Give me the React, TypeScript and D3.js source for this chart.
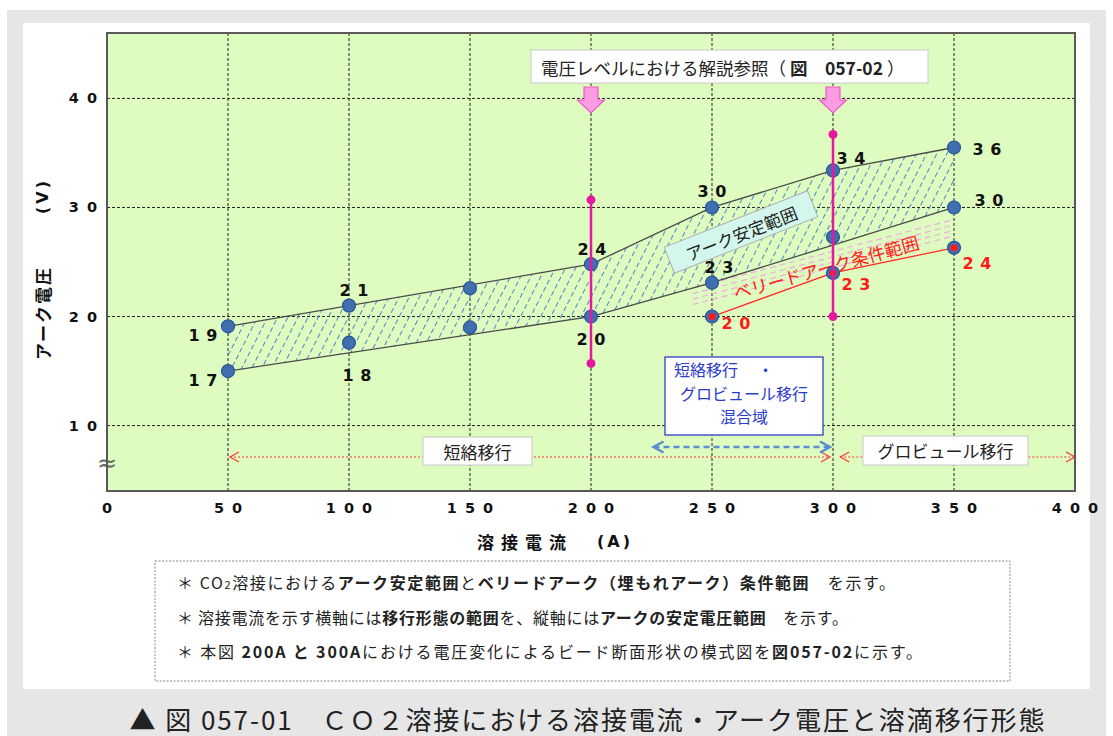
import React from 'react';
import * as d3 from 'd3';

// ---- data ----
const currentTicks = [0, 50, 100, 150, 200, 250, 300, 350, 400];
const voltageTicks = [10, 20, 30, 40];
const currents = [50, 100, 150, 200, 250, 300, 350];
const stableUpperV = [19.1, 21.0, 22.6, 24.8, 30.0, 33.4, 35.5];
const stableLowerV = [15.0, 17.6, 19.0, 20.0, 23.1, 27.3, 30.0];
const upperLabels = ['19', '21', '', '24', '30', '34', '36'];
const lowerLabels = ['17', '18', '', '20', '23', '', '30'];
const upperEdgeA = [50, 200, 250, 300, 350];
const upperEdgeV = [19.1, 24.8, 30.0, 33.4, 35.5];
const lowerEdgeA = [50, 200, 250, 350];
const lowerEdgeV = [15.0, 20.0, 23.1, 30.0];
const buriedA = [250, 300, 350];
const buriedV = [20.0, 24.0, 26.3];
const buriedLabels = ['20', '23', '24'];
const buriedHatchA = [242, 350];
const buriedHatchStartV = [21.1, 21.6, 22.1, 22.6];
const buriedHatchEndV = [27.4, 27.9, 28.4, 28.9];
const refA = [200, 300];
const refLowV = [15.7, 20.0];
const refHighV = [30.7, 36.7];
const shortRange = [50, 300];
const globularRange = [303, 400];
const mixedRange = [225, 300];
const noteLines = [
  [['＊ CO', false], ['2', false, 'sub'], ['溶接における', false], ['アーク安定範囲', true], ['と', false], ['ベリードアーク（埋もれアーク）条件範囲', true], ['　を示す。', false]],
  [['＊ 溶接電流を示す横軸には', false], ['移行形態の範囲', true], ['を、縦軸には', false], ['アークの安定電圧範囲', true], ['　を示す。', false]],
  [['＊ 本図 ', false], ['200A と 300A', true], ['における電圧変化によるビード断面形状の模式図を', false], ['図057-02', true], ['に示す。', false]],
];
const noteWidths = [718, 671, 745];
const caption = '▲ 図 057-01　ＣＯ２溶接における溶接電流・アーク電圧と溶滴移行形態';

// ---- layout ----
const W = 1113, H = 736;
const PL = 107, PR = 1075, PT = 33, PB = 491;
const upperOff = [[-25, 9], [5, -15], [0, 0], [1, -15], [0, -16], [18, -12], [33, 2]];
const lowerOff = [[-25, 9], [8, 33], [0, 0], [0, 23], [7, -15], [0, 0], [35, -7]];
const buriedOff = [[24, 7], [23, 12], [23, 16]];

const JP = '"Noto Sans CJK JP", "Noto Sans", sans-serif';
const NUM = '"DejaVu Sans", Verdana, sans-serif';

function NumLabel({ x, y, t, fill = '#111', size = 16, ls = 6.5 }: any) {
  return (
    <text x={x + ls / 2} y={y} textAnchor="middle" dominantBaseline="central"
      fontFamily={NUM} fontWeight="bold" fontSize={size} letterSpacing={ls} fill={fill}>{t}</text>
  );
}

export default function App() {
  const x = d3.scaleLinear().domain([0, 400]).range([PL, PR]);
  const y = d3.scaleLinear().domain([4, 46]).range([PB, PT]);
  const line = d3.line<[number, number]>().x(d => x(d[0])).y(d => y(d[1]));

  const upperEdge = upperEdgeA.map((a, i) => [a, upperEdgeV[i]] as [number, number]);
  const lowerEdge = lowerEdgeA.map((a, i) => [a, lowerEdgeV[i]] as [number, number]);
  const band = [...upperEdge, ...lowerEdge.slice().reverse()];
  const buried = buriedA.map((a, i) => [a, buriedV[i]] as [number, number]);

  const chevron = (px: number, py: number, dir: number, s: number) =>
    `M${px - dir * s},${py - s * 0.55} L${px},${py} L${px - dir * s},${py + s * 0.55}`;

  const circles: [number, number][] = [
    ...currents.map((a, i) => [a, stableUpperV[i]] as [number, number]),
    ...currents.map((a, i) => [a, stableLowerV[i]] as [number, number]),
    ...buried,
  ];

  const arrowY1 = 447, arrowY2 = 457;

  return (
    <svg width={W} height={H} style={{ position: 'absolute', left: 0, top: 0 }}
      xmlns="http://www.w3.org/2000/svg">
      <defs>
        <pattern id="hatch" width="9" height="8" patternUnits="userSpaceOnUse" patternTransform="rotate(27)">
          <line x1="4.5" y1="0" x2="4.5" y2="8" stroke="#4f82c8" strokeWidth="1" strokeDasharray="5,3" />
        </pattern>
      </defs>
      <rect x={0} y={0} width={W} height={H} fill="#fff" />
      <rect x={7} y={10} width={1099} height={726} fill="#e6e6e6" />
      <rect x={23} y={23} width={1067} height={666} fill="#fff" />

      {/* plot background */}
      <rect x={PL} y={PT} width={PR - PL} height={PB - PT} fill="#defcbf" />

      {/* grid */}
      {currentTicks.filter(t => t > 0 && t < 400).map(t => (
        <line key={'gx' + t} x1={x(t)} x2={x(t)} y1={PT} y2={PB} stroke="#222" strokeWidth={1} strokeDasharray="3,2" />
      ))}
      {voltageTicks.map(t => (
        <line key={'gy' + t} x1={PL} x2={PR} y1={y(t)} y2={y(t)} stroke="#222" strokeWidth={1} strokeDasharray="3,2" />
      ))}

      {/* stable band hatch */}
      <path d={line(band as any) + 'Z'} fill="url(#hatch)" stroke="none" />

      {/* buried arc hatch */}
      {buriedHatchStartV.map((v, i) => (
        <line key={'bh' + i} x1={x(buriedHatchA[0])} y1={y(v)} x2={x(buriedHatchA[1])} y2={y(buriedHatchEndV[i])}
          stroke="#f3a6e6" strokeWidth={1.2} strokeDasharray="6,4" />
      ))}

      {/* band edges */}
      <path d={line(upperEdge) || ''} fill="none" stroke="#4a4a4a" strokeWidth={1.3} />
      <path d={line(lowerEdge) || ''} fill="none" stroke="#4a4a4a" strokeWidth={1.3} />
      <path d={line(buried) || ''} fill="none" stroke="#ff2a2a" strokeWidth={1.3} />

      {/* labels on bands */}
      <g transform={`translate(741,232) rotate(-21.5)`}>
        <rect x={-77} y={-14} width={154} height={28} fill="#d3f7ec" stroke="#b0b0b0" strokeWidth={1} />
        <text x={0} y={1} textAnchor="middle" dominantBaseline="central" fontFamily={JP} fontSize={17} fill="#222">アーク安定範囲</text>
      </g>
      <g transform={`translate(826,267) rotate(-15.5)`}>
        <text x={0} y={0} textAnchor="middle" dominantBaseline="central" fontFamily={JP} fontSize={17.5} fill="#ff2020">ベリードアーク条件範囲</text>
      </g>

      {/* circles */}
      {circles.map((p, i) => (
        <circle key={'c' + i} cx={x(p[0])} cy={y(p[1])} r={6.5} fill="#3f6fb1" stroke="#2b5592" strokeWidth={1.2} />
      ))}
      {buried.map((p, i) => (
        <circle key={'rd' + i} cx={x(p[0])} cy={y(p[1])} r={3.5} fill="#ff1a1a" />
      ))}

      {/* voltage reference lines */}
      {refA.map((a, i) => (
        <g key={'ref' + i}>
          <line x1={x(a)} x2={x(a)} y1={y(refLowV[i])} y2={y(refHighV[i])} stroke="#e8179f" strokeWidth={2.5} />
          <circle cx={x(a)} cy={y(refLowV[i])} r={4.5} fill="#e8179f" />
          <circle cx={x(a)} cy={y(refHighV[i])} r={4.5} fill="#e8179f" />
          <path d={`M${x(a) - 7},87 h14 v13 h6.5 L${x(a)},113 L${x(a) - 13.5},100 h6.5 Z`}
            fill="#ff9be3" stroke="#e85cc4" strokeWidth={1.2} />
        </g>
      ))}

      {/* value labels */}
      {currents.map((a, i) => upperLabels[i] ? (
        <NumLabel key={'ul' + i} x={x(a) + upperOff[i][0]} y={y(stableUpperV[i]) + upperOff[i][1]} t={upperLabels[i]} />
      ) : null)}
      {currents.map((a, i) => lowerLabels[i] ? (
        <NumLabel key={'ll' + i} x={x(a) + lowerOff[i][0]} y={y(stableLowerV[i]) + lowerOff[i][1]} t={lowerLabels[i]} />
      ) : null)}
      {buriedA.map((a, i) => (
        <NumLabel key={'bl' + i} x={x(a) + buriedOff[i][0]} y={y(buriedV[i]) + buriedOff[i][1]} t={buriedLabels[i]} fill="#ff1a1a" />
      ))}

      {/* reference box */}
      <rect x={531} y={50} width={397} height={33} fill="#fff" stroke="#c8c8c8" strokeWidth={1} />
      <text x={541} y={67} dominantBaseline="central" fontFamily={JP} fontSize={17.5} fill="#222">
        電圧レベルにおける解説参照（ <tspan fontWeight="bold">図　057-02</tspan> ）
      </text>

      {/* transfer mode arrows */}
      <line x1={x(shortRange[0]) + 2} x2={x(shortRange[1]) - 3} y1={arrowY2} y2={arrowY2} stroke="#ff3535" strokeWidth={1.2} strokeDasharray="2,2" />
      <path d={chevron(x(shortRange[0]) + 2, arrowY2, -1, 9)} fill="none" stroke="#ff3535" strokeWidth={1.2} />
      <path d={chevron(x(shortRange[1]) - 3, arrowY2, 1, 9)} fill="none" stroke="#ff3535" strokeWidth={1.2} />
      <line x1={x(globularRange[0])} x2={x(globularRange[1])} y1={arrowY2} y2={arrowY2} stroke="#ff3535" strokeWidth={1.2} strokeDasharray="2,2" />
      <path d={chevron(x(globularRange[0]), arrowY2, -1, 9)} fill="none" stroke="#ff3535" strokeWidth={1.2} />
      <path d={chevron(x(globularRange[1]), arrowY2, 1, 9)} fill="none" stroke="#ff3535" strokeWidth={1.2} />

      <line x1={x(mixedRange[0]) + 2} x2={x(mixedRange[1]) - 3} y1={arrowY1} y2={arrowY1} stroke="#5a8ed0" strokeWidth={2.5} strokeDasharray="6,4" />
      <path d={chevron(x(mixedRange[0]) + 2, arrowY1, -1, 10)} fill="none" stroke="#5a8ed0" strokeWidth={2.5} />
      <path d={chevron(x(mixedRange[1]) - 3, arrowY1, 1, 10)} fill="none" stroke="#5a8ed0" strokeWidth={2.5} />

      <rect x={423} y={437} width={109} height={28} fill="#fff" stroke="#c8c8c8" />
      <text x={477.5} y={451} textAnchor="middle" dominantBaseline="central" fontFamily={JP} fontSize={17} fill="#222">短絡移行</text>
      <rect x={863} y={436} width={165} height={29} fill="#fff" stroke="#c8c8c8" />
      <text x={945.5} y={450.5} textAnchor="middle" dominantBaseline="central" fontFamily={JP} fontSize={17} fill="#222">グロビュール移行</text>

      <rect x={665} y={357} width={158} height={78} fill="#fff" stroke="#3040c8" strokeWidth={1.3} />
      <text x={674} y={369} dominantBaseline="central" fontFamily={JP} fontSize={16} fill="#2a3ccc">短絡移行　 ・</text>
      <text x={744} y={392.5} textAnchor="middle" dominantBaseline="central" fontFamily={JP} fontSize={16} fill="#2a3ccc">グロビュール移行</text>
      <text x={744} y={416} textAnchor="middle" dominantBaseline="central" fontFamily={JP} fontSize={16} fill="#2a3ccc">混合域</text>

      {/* break mark */}
      <text x={107} y={463} textAnchor="middle" dominantBaseline="central" fontFamily={NUM} fontSize={24} fill="#666">≈</text>

      {/* plot border */}
      <rect x={PL} y={PT} width={PR - PL} height={PB - PT} fill="none" stroke="#595959" strokeWidth={2} />

      {/* axes ticks */}
      {voltageTicks.map(t => (
        <text key={'yt' + t} x={97 + 8} y={y(t)} textAnchor="end" dominantBaseline="central"
          fontFamily={NUM} fontWeight="bold" fontSize={14.5} letterSpacing={8} fill="#111">{t}</text>
      ))}
      {currentTicks.map(t => (
        <text key={'xt' + t} x={x(t) + 4} y={508} textAnchor="middle" dominantBaseline="central"
          fontFamily={NUM} fontWeight="bold" fontSize={14.5} letterSpacing={8} fill="#111">{t}</text>
      ))}

      {/* axis titles */}
      <text x={477} y={541} dominantBaseline="central" fontFamily={JP} fontWeight="bold" fontSize={17} letterSpacing={7} fill="#111">溶接電流</text>
      <text x={597} y={541} dominantBaseline="central" fontFamily={NUM} fontWeight="bold" fontSize={16} letterSpacing={3} fill="#111">(A)</text>
      <g transform="translate(42,313) rotate(-90)">
        <text x={0} y={0} textAnchor="middle" dominantBaseline="central" fontFamily={JP} fontWeight="bold" fontSize={17} letterSpacing={2} fill="#111">アーク電圧</text>
      </g>
      <g transform="translate(42,196) rotate(-90)">
        <text x={0} y={0} textAnchor="middle" dominantBaseline="central" fontFamily={NUM} fontWeight="bold" fontSize={16} letterSpacing={3} fill="#111">(V)</text>
      </g>

      {/* notes */}
      <rect x={155} y={561} width={855} height={120} fill="#fff" stroke="#888" strokeWidth={1} strokeDasharray="2,1.5" />
      {noteLines.map((ln, i) => (
        <text key={'n' + i} x={177} y={582 + i * 34.5} dominantBaseline="central" fontFamily={JP} fontSize={16}
          fill="#222" textLength={noteWidths[i]} lengthAdjust="spacing">
          {ln.map((seg: any, j: number) => (
            <tspan key={j} fontWeight={seg[1] ? 'bold' : 'normal'} fontSize={seg[2] ? 11 : undefined}
              dy={seg[2] ? 2 : (j > 0 && ln[j - 1][2] ? -2 : 0)}>{seg[0]}</tspan>
          ))}
        </text>
      ))}

      {/* caption */}
      <text x={587} y={718} textAnchor="middle" dominantBaseline="central" fontFamily={JP} fontSize={26}
        fill="#222" textLength={915} lengthAdjust="spacing">{caption}</text>
    </svg>
  );
}
